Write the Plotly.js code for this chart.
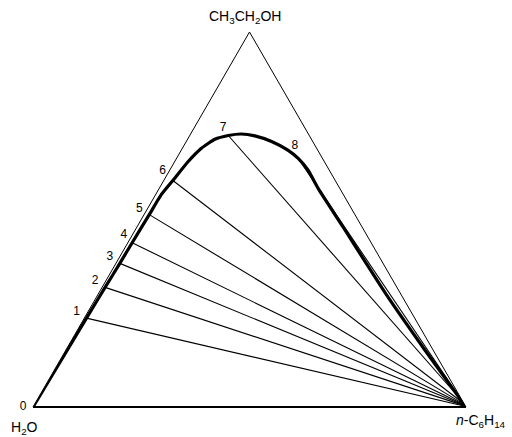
<!DOCTYPE html>
<html><head><meta charset="utf-8">
<script src="https://cdn.plot.ly/plotly-3.0.1.min.js"></script>
<style>html,body{margin:0;padding:0;background:#fff}#chart{width:512px;height:437px}</style>
</head><body><div id="chart"></div>
<script>
// Binodal curve (mass fractions): ethanol (a, top), water (b, bottom-left), n-hexane (c, bottom-right)
const curveEthanol = [0.000, 0.237, 0.319, 0.383, 0.438, 0.513, 0.565, 0.604, 0.654, 0.690, 0.714, 0.724, 0.728, 0.723, 0.708, 0.685, 0.663, 0.632, 0.583, 0.480, 0.299, 0.152, 0.000];
const curveWater   = [1.000, 0.758, 0.674, 0.608, 0.552, 0.475, 0.422, 0.375, 0.315, 0.266, 0.223, 0.187, 0.155, 0.126, 0.095, 0.069, 0.056, 0.049, 0.050, 0.044, 0.034, 0.019, 0.000];
const curveHexane  = [0.000, 0.005, 0.007, 0.009, 0.010, 0.012, 0.013, 0.021, 0.031, 0.044, 0.063, 0.089, 0.117, 0.151, 0.197, 0.246, 0.281, 0.319, 0.367, 0.476, 0.667, 0.829, 1.000];

// Tie lines 1..8: water-rich end and hexane-rich end
const tieLabels      = ['1', '2', '3', '4', '5', '6', '7', '8'];
const tieWREthanol   = [0.237, 0.319, 0.383, 0.438, 0.513, 0.604, 0.724, 0.663];
const tieWRWater     = [0.758, 0.674, 0.608, 0.552, 0.475, 0.375, 0.187, 0.056];
const tieWRHexane    = [0.005, 0.007, 0.009, 0.010, 0.012, 0.021, 0.089, 0.281];
const tieHREthanol   = [0.002, 0.003, 0.004, 0.005, 0.007, 0.010, 0.016, 0.004];
const tieHRWater     = [0.001, 0.001, 0.001, 0.001, 0.001, 0.001, 0.001, 0.000];
const tieHRHexane    = [0.997, 0.996, 0.995, 0.994, 0.992, 0.989, 0.983, 0.996];

// Point labels (0 = pure water corner, then tie-line numbers)
const pointLabels   = ['0'].concat(tieLabels);
const pointEthanol  = [0.000].concat(tieWREthanol);
const pointWater    = [1.000].concat(tieWRWater);
const pointHexane   = [0.000].concat(tieWRHexane);

const cornerLabels = ['CH<sub>3</sub>CH<sub>2</sub>OH', 'H<sub>2</sub>O', '<i>n</i>-C<sub>6</sub>H<sub>14</sub>'];

const tieA = [], tieB = [], tieC = [];
for (let i = 0; i < tieLabels.length; i++) {
  tieA.push(tieWREthanol[i], tieHREthanol[i], null);
  tieB.push(tieWRWater[i], tieHRWater[i], null);
  tieC.push(tieWRHexane[i], tieHRHexane[i], null);
}

// label placement styling (offset from the point)
const NB = '\u00a0';
const labelPositions = ['middle left', 'top left', 'top left', 'top left', 'top left', 'top left', 'top left', 'top left', 'top center'];
const labelPads      = [NB + NB, NB + NB, NB + NB, NB + NB, NB, NB + NB, NB, '', NB + NB];
const labelGap       = [0, 0, 0, 0, 1, 0, 4, 1.2, 8];
const labelText = pointLabels.map((t, i) => t + labelPads[i]);

const FONT = 'Liberation Sans, Arial, sans-serif';

const traces = [
  {type: 'scatterternary', mode: 'lines', a: tieA, b: tieB, c: tieC,
   line: {color: '#000', width: 1.1}, hoverinfo: 'skip', cliponaxis: false, showlegend: false},
  {type: 'scatterternary', mode: 'lines', a: curveEthanol, b: curveWater, c: curveHexane,
   line: {color: '#000', width: 3.2, shape: 'spline', smoothing: 0.5}, hoverinfo: 'skip', cliponaxis: false, showlegend: false},
  {type: 'scatterternary', mode: 'markers+text', a: pointEthanol, b: pointWater, c: pointHexane,
   text: labelText, textposition: labelPositions,
   marker: {size: labelGap, color: 'rgba(0,0,0,0)', line: {width: 0}},
   textfont: {family: FONT, size: 12, color: 'black'}, hoverinfo: 'skip', cliponaxis: false, showlegend: false}
];

const axisStyle = (w) => ({showgrid: false, showticklabels: false, ticks: '', showline: true,
  linecolor: '#000', linewidth: w, title: {text: ''}});

const layout = {
  width: 512, height: 437,
  margin: {l: 33, r: 46, t: 32, b: 30},
  paper_bgcolor: '#fff',
  showlegend: false,
  ternary: {
    sum: 1, bgcolor: '#fff',
    domain: {x: [0, 1], y: [0, 1]},
    aaxis: axisStyle(1),
    baxis: axisStyle(2),
    caxis: axisStyle(1)
  },
  annotations: [
    {text: cornerLabels[0], xref: 'paper', yref: 'paper', x: 0.489, y: 1.01, xanchor: 'center', yanchor: 'bottom', showarrow: false,
     font: {family: FONT, size: 14, color: '#000'}},
    {text: cornerLabels[1], xref: 'paper', yref: 'paper', x: -0.02, y: -0.055, xanchor: 'center', yanchor: 'middle', showarrow: false,
     font: {family: FONT, size: 14, color: '#000'}},
    {text: cornerLabels[2], xref: 'paper', yref: 'paper', x: 1.035, y: -0.037, xanchor: 'center', yanchor: 'middle', showarrow: false,
     font: {family: FONT, size: 14, color: '#000'}}
  ]
};

Plotly.newPlot('chart', traces, layout, {displayModeBar: false, staticPlot: true});
</script>
</body></html>
